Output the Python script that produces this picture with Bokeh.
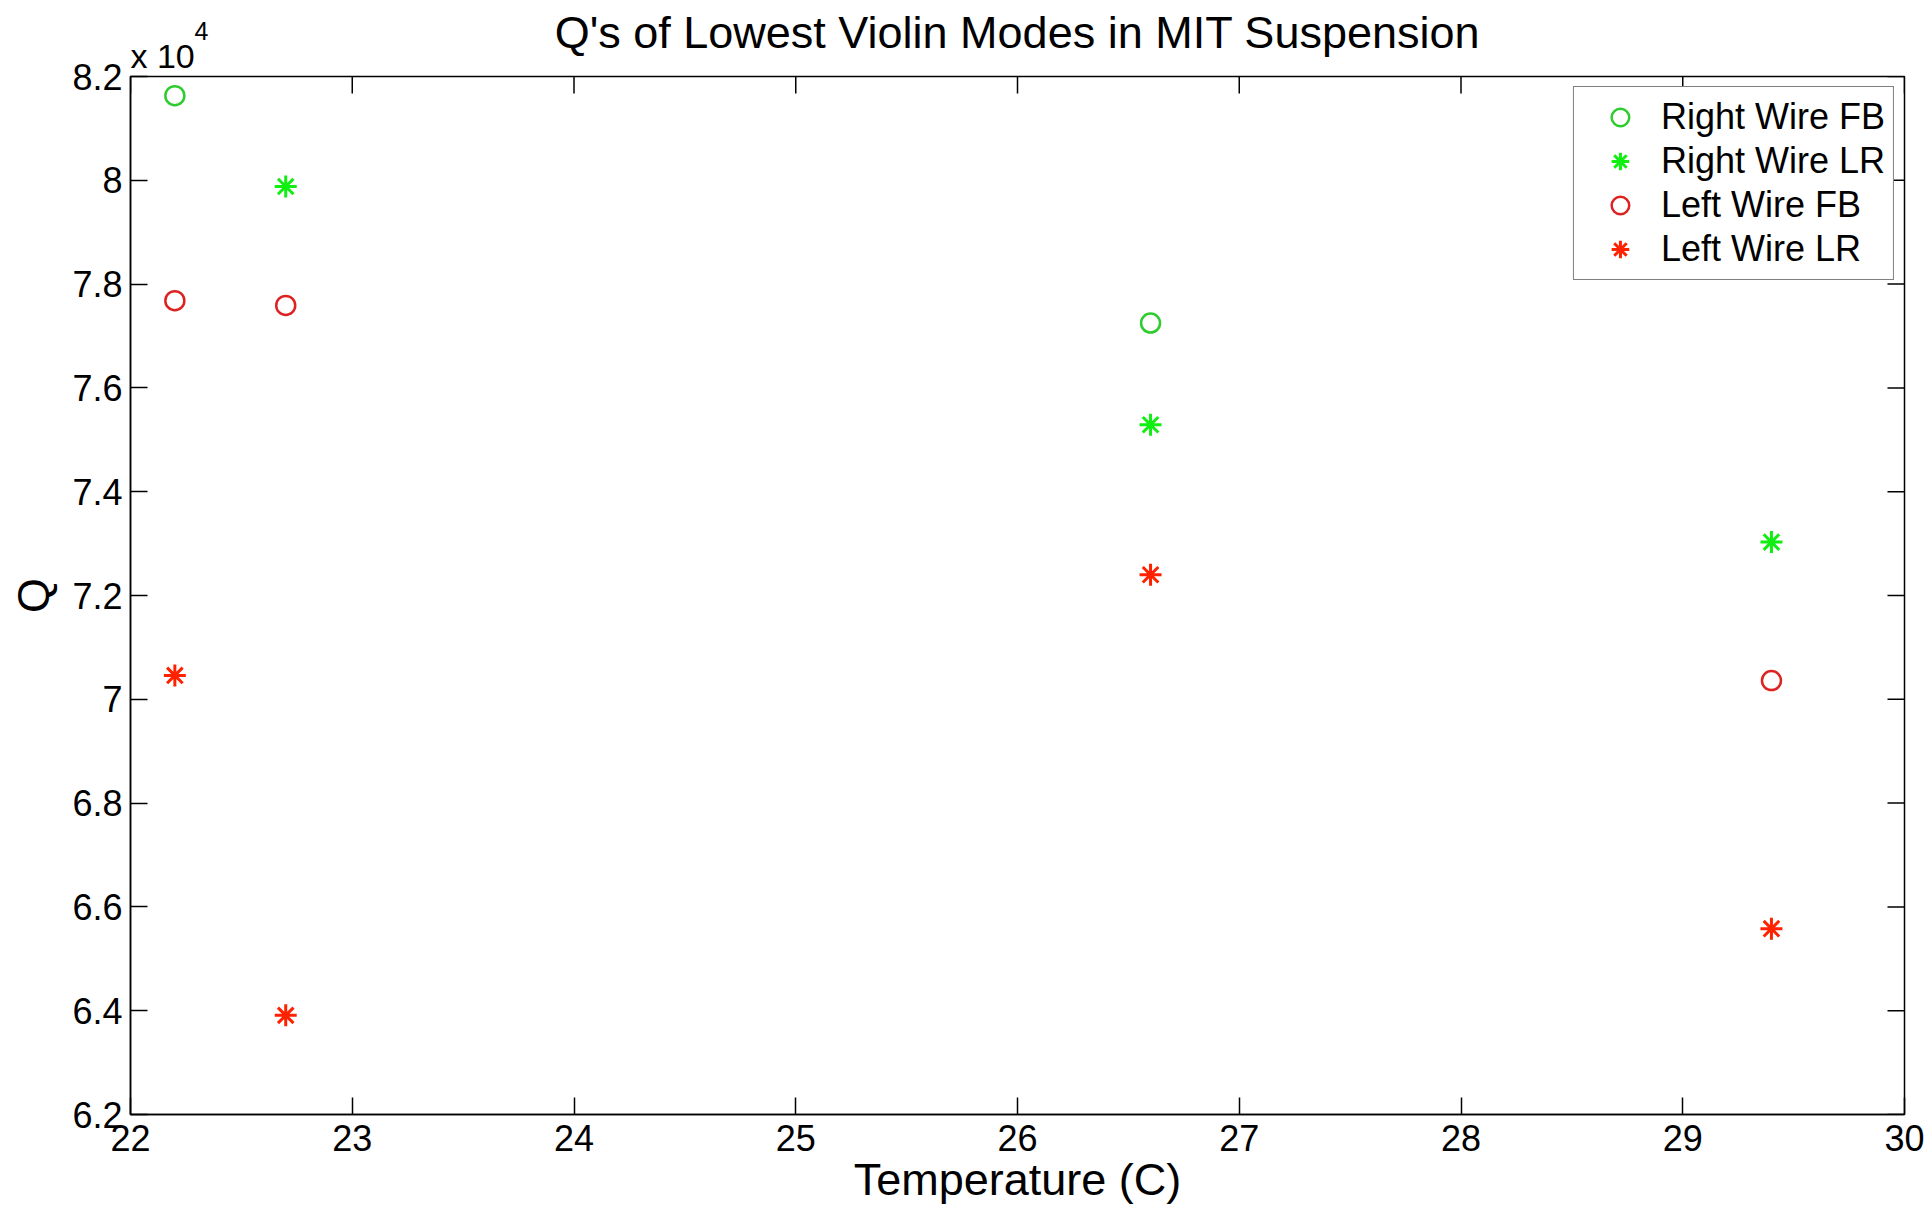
import math
from bokeh.plotting import figure
from bokeh.models import (Range1d, FixedTicker, CustomJSTickFormatter,
                          Title, Legend, LegendItem)
from bokeh.embed import file_html
from bokeh.resources import INLINE

title_text = "Q's of Lowest Violin Modes in MIT Suspension"
x_label = "Temperature (C)"
y_label = "Q"
y_multiplier = "x 10"
y_exponent = "4"

right_fb_temp = [22.2, 26.6]
right_fb_q = [81630, 77250]
right_lr_temp = [22.7, 26.6, 29.4]
right_lr_q = [79880, 75290, 73030]
left_fb_temp = [22.2, 22.7, 29.4]
left_fb_q = [77680, 77590, 70360]
left_lr_temp = [22.2, 22.7, 26.6, 29.4]
left_lr_q = [70460, 63910, 72400, 65580]

series_names = ["Right Wire FB", "Right Wire LR", "Left Wire FB", "Left Wire LR"]
x_ticks = [22, 23, 24, 25, 26, 27, 28, 29, 30]
y_ticks = [62000, 64000, 66000, 68000, 70000, 72000, 74000, 76000, 78000, 80000, 82000]

FONT = "Liberation Sans"
X0, X1 = 22, 30
Y0, Y1 = 62000, 82000

p = figure(width=1929, height=1207, x_range=Range1d(X0, X1), y_range=Range1d(Y0, Y1),
           output_backend="svg", toolbar_location=None,
           min_border_left=130, min_border_right=25, min_border_top=76, min_border_bottom=93)
p.background_fill_color = "white"
p.border_fill_color = "white"
p.outline_line_color = "black"
p.outline_line_width = 1.5
p.xgrid.visible = False
p.ygrid.visible = False

# "x 10^4" multiplier above the top-left corner (closest to the frame first)
p.add_layout(Title(text=y_multiplier, align="left", offset=0, standoff=4,
                   text_font=FONT, text_font_size="34px", text_font_style="normal",
                   text_color="black"), "above")
p.add_layout(Title(text=y_exponent, align="left", offset=64, standoff=-14,
                   text_font=FONT, text_font_size="25px", text_font_style="normal",
                   text_color="black"), "above")

p.title.text = title_text
p.title.text_font = FONT
p.title.text_font_size = "45px"
p.title.text_font_style = "normal"
p.title.align = "center"
p.title.text_color = "black"
p.title.standoff = -63

xa = p.xaxis[0]
ya = p.yaxis[0]
xa.ticker = FixedTicker(ticks=x_ticks)
ya.ticker = FixedTicker(ticks=y_ticks)
ya.formatter = CustomJSTickFormatter(code="return (Math.round(tick/200)/50).toString();")
for ax in (xa, ya):
    ax.major_tick_in = 17
    ax.major_tick_out = 0
    ax.minor_tick_line_color = None
    ax.axis_line_color = "black"
    ax.axis_line_width = 1.5
    ax.major_tick_line_color = "black"
    ax.major_tick_line_width = 1.5
    ax.major_label_text_font = FONT
    ax.major_label_text_color = "black"
    ax.major_label_text_font_size = "36px"
    ax.axis_label_text_font = FONT
    ax.axis_label_text_font_size = "45px"
    ax.axis_label_text_font_style = "normal"
    ax.axis_label_text_color = "black"
xa.major_label_standoff = 10
ya.major_label_standoff = 8
xa.axis_label = x_label
ya.axis_label = y_label
xa.axis_label_standoff = 0
ya.axis_label_standoff = 10

# inward ticks on the top and right edges of the box
p.ray(x=x_ticks, y=[Y1] * len(x_ticks), length=17, length_units="screen",
      angle=-math.pi / 2, line_color="black", line_width=1.5)
p.ray(x=[X1] * len(y_ticks), y=y_ticks, length=17, length_units="screen",
      angle=math.pi, line_color="black", line_width=1.5)

r1 = p.scatter(right_fb_temp, right_fb_q, marker="circle", size=19, fill_color=None,
               line_color="#2ecc2e", line_width=2.5)
r2 = p.scatter(right_lr_temp, right_lr_q, marker="asterisk", size=22,
               line_color="#11ee11", line_width=3)
r3 = p.scatter(left_fb_temp, left_fb_q, marker="circle", size=19, fill_color=None,
               line_color="#dd2222", line_width=2.5)
r4 = p.scatter(left_lr_temp, left_lr_q, marker="asterisk", size=22,
               line_color="#ff2200", line_width=3)

legend = Legend(items=[LegendItem(label=n, renderers=[r]) for n, r in
                       zip(series_names, [r1, r2, r3, r4])],
                location="top_right")
legend.margin = 10
legend.padding = 8
legend.spacing = 0
legend.glyph_width = 76
legend.glyph_height = 44
legend.label_height = 44
legend.label_standoff = 3
legend.label_text_font = FONT
legend.label_text_font_size = "36px"
legend.label_text_color = "black"
legend.border_line_color = "black"
legend.border_line_width = 1.5
legend.background_fill_color = "white"
legend.background_fill_alpha = 1.0
p.add_layout(legend)

open("out.html", "w").write(file_html(p, INLINE))
